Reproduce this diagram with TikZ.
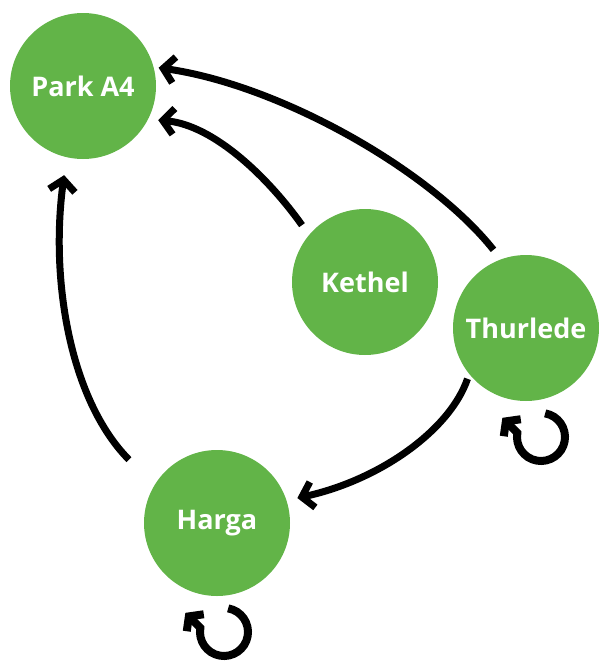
\documentclass[tikz,border=0pt]{standalone}
\usepackage{fontspec}
\setmainfont{Open Sans}
\usetikzlibrary{arrows.meta,calc}
\definecolor{nodegreen}{RGB}{98,180,72}
\tikzset{
  place/.style={circle,fill=nodegreen,draw=none,minimum size=146pt,inner sep=0pt,
    text=white,font=\fontsize{27}{32}\selectfont\bfseries},
  edge/.style={line width=7pt,black,-{Straight Barb[length=11pt,width=26pt]}},
  loopedge/.style={line width=8pt,black,-{Straight Barb[length=9pt,width=24pt]}}
}
\begin{document}
\begin{tikzpicture}[x=1pt,y=-1pt]
\useasboundingbox (0,0) rectangle (598,664);
\node[place] (pa) at (83,86) {Park A4};
\node[place] (ket) at (365,282) {Kethel};
\node[place] (thur) at (526,328) {Thurlede};
\node[place] (har) at (217,523) {Harga};
% edges
\draw[edge,shorten <=12pt,shorten >=5pt] (thur.110) .. controls (430,170) and (280,85) .. (pa.15);
\draw[edge,shorten <=12pt,shorten >=10pt] (ket.140) .. controls (270,180) and (215,125) .. (pa.-27);
\draw[edge,shorten <=36pt,shorten >=18pt] (har.149) .. controls (70,400) and (50,280) .. (pa.257);
\draw[edge,shorten <=5pt,shorten >=11pt] (thur.219) .. controls (450,430) and (380,480) .. (har.18);
% self loops
\coordinate (tl) at ($(thur)+(15,109)$);
\coordinate (hl) at ($(har)+(7,109)$);
\draw[loopedge] (tl) ++(-80:24) arc[start angle=-80,end angle=190,radius=24] -- ++(-15,-15);
\draw[loopedge] (hl) ++(-80:24) arc[start angle=-80,end angle=190,radius=24] -- ++(-15,-15);
\end{tikzpicture}
\end{document}
